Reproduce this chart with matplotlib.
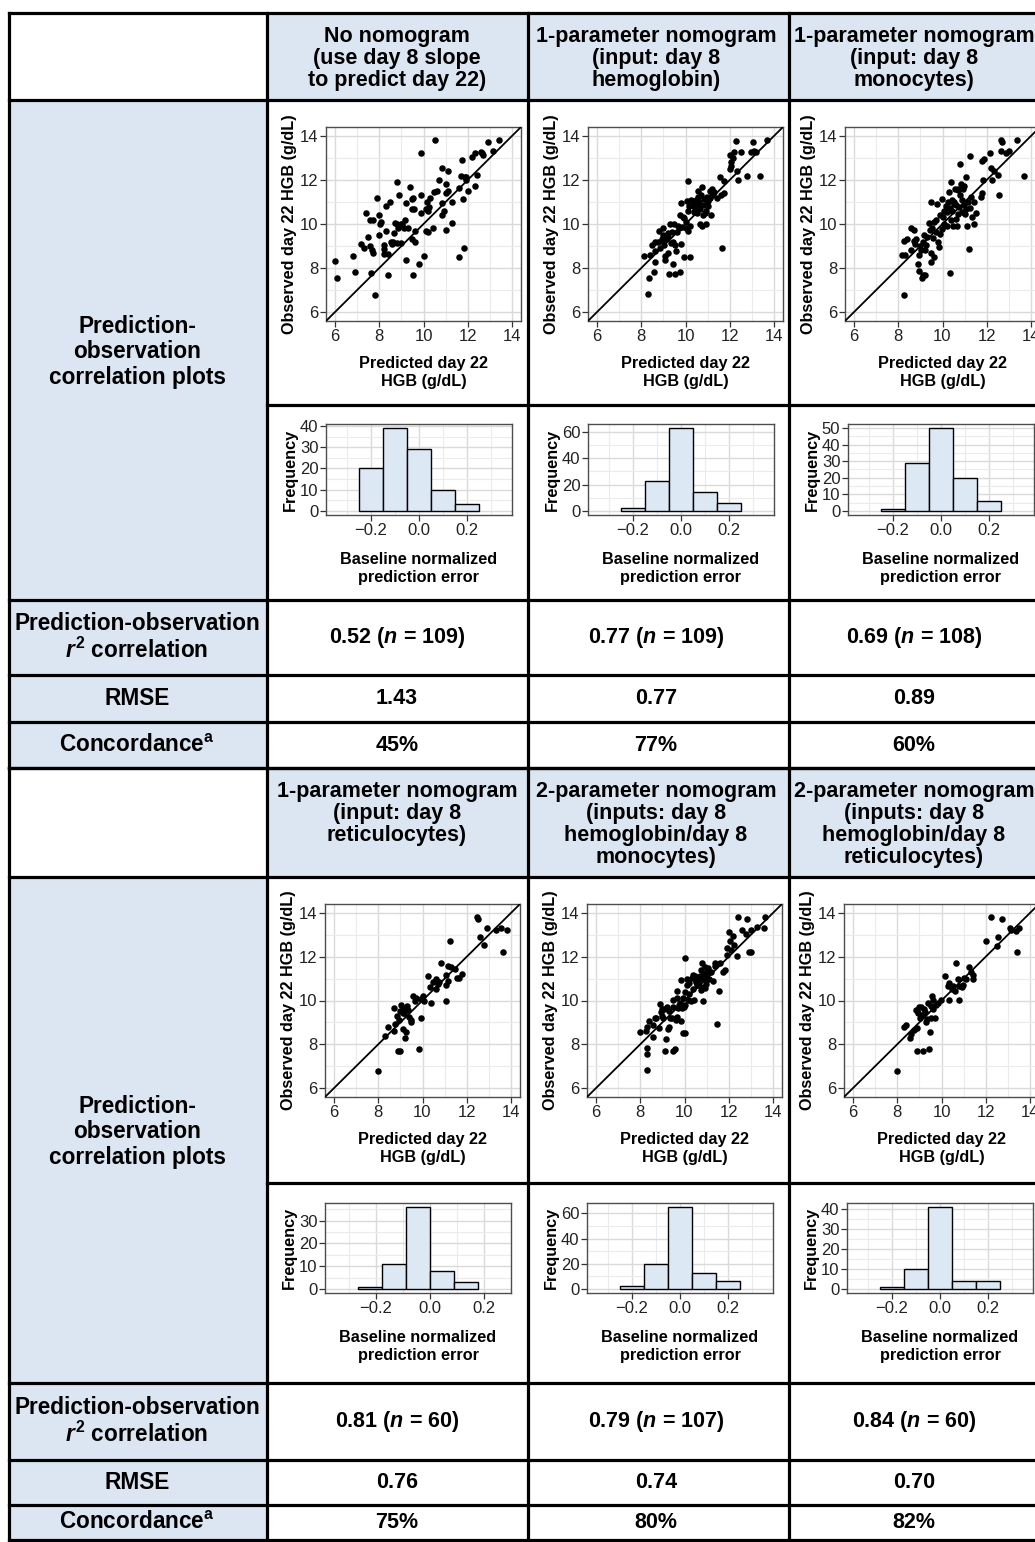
import matplotlib
matplotlib.use('Agg')
import matplotlib.pyplot as plt
import numpy as np
from matplotlib.patches import Rectangle
from matplotlib.lines import Line2D
from matplotlib.ticker import MultipleLocator, FixedLocator

plt.rcParams['font.family'] = ['Liberation Sans', 'DejaVu Sans']
plt.rcParams['font.weight'] = 'bold'
plt.rcParams['mathtext.fontset'] = 'custom'
plt.rcParams['mathtext.rm'] = 'Liberation Sans:bold'
plt.rcParams['mathtext.it'] = 'Liberation Sans:italic:bold'
plt.rcParams['mathtext.bf'] = 'Liberation Sans:bold'

# ---------------- data ----------------
col_headers_1 = ["No nomogram\n(use day 8 slope\nto predict day 22)",
                 "1-parameter nomogram\n(input: day 8\nhemoglobin)",
                 "1-parameter nomogram\n(input: day 8\nmonocytes)"]
col_headers_2 = ["1-parameter nomogram\n(input: day 8\nreticulocytes)",
                 "2-parameter nomogram\n(inputs: day 8\nhemoglobin/day 8\nmonocytes)",
                 "2-parameter nomogram\n(inputs: day 8\nhemoglobin/day 8\nreticulocytes)"]
row_labels = ["Prediction-\nobservation\ncorrelation plots",
              "Prediction-observation\n$r^2$ correlation",
              "RMSE",
              "Concordance$^{\\rm a}$"]
r2_values_1 = ["0.52 ($n$ = 109)", "0.77 ($n$ = 109)", "0.69 ($n$ = 108)"]
rmse_values_1 = ["1.43", "0.77", "0.89"]
conc_values_1 = ["45%", "77%", "60%"]
r2_values_2 = ["0.81 ($n$ = 60)", "0.79 ($n$ = 107)", "0.84 ($n$ = 60)"]
rmse_values_2 = ["0.76", "0.74", "0.70"]
conc_values_2 = ["75%", "80%", "82%"]

hgb_ticks = [6, 8, 10, 12, 14]
err_ticks = [-0.2, 0.0, 0.2]

slope_pred = [6.0, 6.1, 6.81, 6.9, 7.19, 7.3, 7.4, 7.5, 7.6, 7.7, 7.6, 7.69, 7.73, 7.63, 7.8, 7.9, 8.0, 8.03,
              8.1, 8.0, 8.2, 8.2, 8.2, 8.4, 8.3, 8.5, 8.3, 8.42, 8.55, 8.63, 8.7, 8.8, 8.9, 8.79, 8.87, 8.68,
              8.79, 8.98, 8.97, 9.12, 9.18, 9.2, 9.19, 9.3, 9.4, 9.46, 9.54, 9.48, 9.57, 9.51, 9.6, 9.5, 9.6,
              9.8, 9.9, 9.9, 9.9, 10.0, 10.11, 10.22, 10.16, 10.26, 10.13, 10.22, 10.3, 10.41, 10.52, 10.49,
              10.62, 10.7, 10.82, 10.82, 10.82, 10.91, 11.0, 11.0, 11.1, 11.12, 11.0, 11.3, 11.3, 11.62, 11.62,
              11.74, 11.71, 11.8, 11.81, 11.87, 11.92, 12.0, 12.2, 12.31, 12.31, 12.41, 12.6, 12.63, 12.7,
              12.91, 13.12, 13.42, 11.92, 8.95, 9.05, 10.18, 8.6]
slope_obs = [8.31, 7.55, 8.56, 7.84, 9.08, 8.9, 10.5, 9.4, 10.2, 10.2, 9.0, 8.8, 8.7, 7.8, 6.8, 11.2, 10.4, 10.0,
             10.08, 9.5, 9.05, 8.85, 8.65, 8.65, 10.8, 11.0, 9.7, 7.7, 9.2, 9.17, 10.03, 11.9, 11.32, 9.98,
             9.83, 9.59, 9.14, 9.16, 10.0, 9.83, 10.2, 10.94, 8.37, 9.83, 11.7, 11.12, 11.2, 10.7, 10.7, 7.67,
             9.7, 9.3, 9.2, 8.2, 13.2, 11.32, 10.5, 8.53, 10.66, 10.6, 10.99, 10.76, 9.68, 9.63, 11.2, 9.81,
             13.8, 11.44, 11.5, 12.0, 12.52, 10.94, 10.42, 10.6, 11.82, 11.4, 12.42, 11.5, 9.75, 11.02, 10.04,
             11.62, 8.5, 12.9, 12.18, 11.14, 8.91, 12.13, 12.0, 11.5, 13.02, 13.2, 11.71, 12.22, 13.28, 13.2,
             13.13, 13.7, 13.32, 13.8, 12.15, 9.9, 10.0, 10.7, 9.1]

hgb_pred = [8.11, 8.32, 8.36, 8.41, 8.56, 8.48, 8.62, 8.64, 8.74, 8.8, 8.86, 8.92, 8.98, 9.0, 9.04, 9.07, 9.09,
            9.12, 9.19, 9.22, 9.24, 9.31, 9.34, 9.37, 9.42, 9.43, 9.46, 9.52, 9.54, 9.57, 9.61, 9.69, 9.73,
            9.75, 9.78, 9.8, 9.86, 9.92, 9.95, 10.0, 10.04, 10.05, 10.13, 10.13, 10.16, 10.22, 10.22, 10.25,
            10.32, 10.4, 10.43, 10.46, 10.5, 10.55, 10.58, 10.61, 10.64, 10.67, 10.7, 10.73, 10.76, 10.79,
            10.82, 10.85, 10.91, 10.94, 10.97, 11.03, 11.09, 11.12, 11.15, 11.18, 11.24, 11.3, 11.56, 11.6,
            11.66, 11.75, 11.75, 11.99, 12.02, 12.07, 12.13, 12.17, 12.28, 12.31, 12.39, 12.51, 12.78, 12.96,
            13.05, 13.11, 13.17, 13.38, 13.68, 12.05, 8.62, 10.1, 9.9, 10.9, 11.4, 9.2, 10.35, 8.95, 11.0,
            10.6, 9.65, 11.2, 10.45]
hgb_obs = [8.56, 6.82, 7.54, 8.59, 7.84, 9.05, 8.29, 8.77, 9.2, 9.69, 8.9, 9.23, 9.8, 9.5, 9.05, 8.56, 8.37,
           9.32, 9.57, 8.67, 7.71, 9.98, 9.12, 9.62, 9.17, 8.18, 10.0, 7.72, 9.05, 8.77, 9.65, 9.8, 10.4,
           7.81, 9.1, 10.95, 9.87, 10.28, 8.52, 10.1, 9.83, 11.03, 11.93, 9.68, 10.8, 8.52, 9.9, 11.1, 10.82,
           10.55, 10.77, 11.1, 10.52, 11.22, 11.48, 11.0, 10.0, 10.7, 11.33, 11.67, 9.92, 10.4, 11.12, 10.88,
           9.98, 10.58, 11.24, 11.03, 11.51, 11.18, 10.4, 11.6, 11.37, 11.45, 12.12, 11.33, 8.92, 11.42,
           11.93, 13.13, 12.5, 12.83, 12.98, 13.25, 13.77, 12.42, 12.0, 13.25, 12.2, 13.25, 13.7, 13.32,
           13.28, 12.17, 13.79, 12.65, 9.17, 10.6, 10.3, 10.5, 11.2, 9.4, 10.9, 9.3, 10.8, 10.9, 9.9, 11.3,
           10.6]

mono_pred = [8.25, 8.15, 8.25, 8.39, 8.33, 8.6, 8.58, 8.7, 8.7, 8.78, 8.9, 8.96, 8.93, 9.05, 9.08, 9.14, 9.23,
             9.11, 9.17, 9.2, 9.26, 9.38, 9.46, 9.43, 9.46, 9.5, 9.53, 9.56, 9.63, 9.69, 9.72, 9.76, 9.79, 9.84,
             9.87, 9.96, 9.99, 10.05, 10.09, 10.14, 10.2, 10.21, 10.26, 10.29, 10.32, 10.34, 10.37, 10.38,
             10.41, 10.44, 10.47, 10.52, 10.55, 10.59, 10.62, 10.65, 10.68, 10.71, 10.74, 10.77, 10.82, 10.86,
             10.9, 10.92, 10.97, 10.98, 11.02, 11.08, 11.11, 11.14, 11.2, 11.23, 11.24, 11.29, 11.35, 11.42,
             11.5, 11.73, 11.8, 11.8, 11.88, 11.83, 12.13, 12.19, 12.25, 12.34, 12.52, 12.55, 12.62, 12.65,
             12.68, 12.86, 12.98, 13.37, 13.67, 9.0, 9.3, 9.9, 10.5, 10.8, 11.05, 9.6, 10.15, 8.8, 10.0,
             10.7, 11.4]
mono_obs = [6.8, 8.61, 9.23, 9.3, 8.61, 8.8, 9.81, 9.71, 9.21, 9.1, 8.2, 7.86, 8.61, 8.8, 7.55, 7.67, 7.7,
            9.18, 9.48, 8.8, 9.06, 10.05, 10.99, 9.71, 8.7, 8.28, 9.81, 9.36, 8.5, 10.2, 9.63, 10.91, 9.18,
            8.95, 9.56, 11.14, 9.78, 10.61, 10.0, 10.57, 10.54, 9.93, 11.02, 11.44, 10.72, 7.8, 11.92, 10.16,
            11.11, 10.61, 9.93, 11.02, 11.59, 10.84, 10.23, 9.93, 11.52, 10.46, 10.76, 12.72, 11.82, 10.54,
            11.11, 11.59, 10.84, 11.74, 10.46, 12.12, 9.9, 11.02, 8.88, 13.1, 10.72, 11.21, 10.31, 10.0,
            10.51, 11.21, 11.41, 12.87, 12.95, 12.01, 13.22, 12.52, 12.01, 12.42, 12.22, 11.32, 13.32, 13.82,
            13.73, 13.22, 13.32, 13.82, 12.19, 9.0, 9.4, 10.4, 10.9, 11.3, 10.7, 10.1, 10.8, 9.3, 10.3,
            11.6, 11.0]

retic_pred = [7.97, 8.3, 8.44, 8.71, 8.74, 8.71, 8.83, 8.9, 8.98, 8.95, 8.98, 9.05, 9.1, 9.13, 9.16, 9.19,
              9.25, 9.31, 9.35, 9.4, 9.46, 9.5, 9.55, 9.65, 9.85, 9.91, 9.95, 10.0, 10.06, 10.23, 10.36, 10.4,
              10.59, 10.63, 10.71, 10.75, 10.84, 11.05, 11.05, 11.08, 11.16, 11.17, 11.23, 11.28, 11.46,
              11.56, 11.65, 11.77, 12.48, 12.51, 12.59, 12.77, 12.92, 13.31, 13.56, 13.64, 13.82, 10.48,
              9.1, 9.7]
retic_obs = [6.8, 8.38, 8.8, 9.66, 8.91, 8.61, 9.3, 7.7, 7.7, 9.11, 9.51, 9.78, 8.7, 9.6, 9.41, 8.31, 8.55,
             9.75, 9.56, 9.26, 9.03, 9.11, 10.2, 10.0, 7.8, 9.21, 10.05, 10.2, 10.0, 11.11, 10.61, 9.9, 10.96,
             10.51, 10.76, 10.84, 11.71, 11.14, 10.72, 10.0, 10.91, 11.56, 12.7, 11.52, 11.44, 11.02, 11.02,
             11.21, 13.82, 13.7, 12.9, 12.52, 13.32, 13.22, 13.32, 12.19, 13.22, 10.84, 9.45, 10.1]

hgbmono_pred = [7.99, 8.32, 8.32, 8.32, 8.26, 8.32, 8.41, 8.56, 8.59, 8.67, 8.86, 8.89, 8.92, 8.97, 9.01, 9.07,
                9.13, 9.16, 9.19, 9.24, 9.31, 9.34, 9.42, 9.46, 9.49, 9.57, 9.61, 9.64, 9.67, 9.7, 9.77, 9.83,
                9.86, 9.89, 9.92, 9.98, 10.01, 10.02, 10.04, 10.1, 10.13, 10.17, 10.22, 10.28, 10.32, 10.37,
                10.4, 10.44, 10.47, 10.52, 10.55, 10.61, 10.67, 10.73, 10.76, 10.79, 10.82, 10.85, 10.88,
                10.91, 10.94, 10.97, 11.0, 11.03, 11.08, 11.15, 11.3, 11.36, 11.39, 11.45, 11.57, 11.75,
                11.83, 11.9, 11.93, 11.99, 12.05, 12.2, 12.23, 12.39, 12.42, 12.58, 12.78, 12.84, 12.93,
                13.02, 13.0, 13.29, 13.59, 13.62, 9.64, 9.3, 10.6, 10.9, 9.8, 10.2, 11.1, 8.7, 9.5, 10.5,
                11.6, 10.0, 9.95, 10.7, 11.2, 12.1, 9.0]
hgbmono_obs = [8.56, 6.81, 7.56, 7.83, 8.62, 8.81, 9.07, 8.89, 8.32, 9.22, 8.74, 9.82, 9.46, 9.31, 9.22, 9.61,
               7.71, 8.26, 9.71, 8.71, 8.81, 9.22, 9.19, 7.71, 10.02, 7.8, 9.11, 10.42, 10.12, 9.64, 9.79,
               9.07, 10.92, 9.64, 8.51, 9.71, 8.51, 11.92, 9.79, 10.69, 10.96, 10.02, 10.81, 9.97, 11.02,
               10.54, 11.14, 10.02, 11.11, 10.84, 10.69, 10.96, 10.72, 11.41, 10.47, 11.71, 9.97, 10.96,
               11.22, 10.57, 11.52, 10.77, 11.29, 11.02, 11.47, 11.29, 10.87, 11.71, 11.56, 8.92, 10.42,
               11.32, 11.41, 12.08, 12.38, 13.13, 12.72, 12.95, 12.53, 12.02, 13.82, 13.22, 13.02, 13.73,
               12.23, 12.2, 13.22, 13.34, 13.32, 13.82, 9.26, 9.5, 10.8, 10.6, 9.9, 10.3, 11.0, 9.2, 9.7,
               10.9, 11.7, 10.4, 10.1, 11.1, 11.3, 12.3, 9.6]

hgbretic_pred = [8.0, 8.33, 8.42, 8.57, 8.61, 8.76, 8.88, 8.83, 8.88, 8.94, 8.98, 9.03, 9.09, 9.12, 9.18, 9.24,
                 9.3, 9.36, 9.45, 9.48, 9.51, 9.54, 9.58, 9.6, 9.63, 9.69, 9.73, 9.84, 9.96, 10.16, 10.32,
                 10.35, 10.49, 10.53, 10.59, 10.64, 10.74, 10.77, 10.8, 10.92, 11.01, 11.09, 11.24, 11.32,
                 11.41, 11.44, 11.99, 12.22, 12.52, 12.55, 12.72, 13.09, 13.15, 13.36, 13.39, 13.51, 10.29,
                 9.2, 10.95, 9.4]
hgbretic_obs = [6.8, 8.8, 8.88, 8.31, 8.46, 8.65, 7.7, 9.56, 8.73, 9.41, 9.71, 9.21, 9.71, 9.33, 7.7, 9.48,
                9.03, 9.15, 7.8, 8.55, 9.75, 9.18, 10.2, 9.63, 10.01, 9.21, 9.81, 9.9, 10.01, 11.11, 10.01,
                10.81, 10.54, 10.66, 10.42, 11.71, 10.96, 10.01, 10.66, 10.61, 11.02, 10.96, 11.52, 11.32,
                10.96, 11.14, 12.7, 13.82, 12.5, 12.9, 13.73, 13.32, 13.22, 13.17, 12.19, 13.32, 10.64,
                9.6, 10.7, 9.9]

# histogram bin edges and counts
edges_std = [-0.25, -0.15, -0.05, 0.05, 0.15, 0.25]
edges_retic = [-0.266, -0.177, -0.089, 0.0, 0.089, 0.177]
hist_slope = [20, 39, 29, 10, 3]
hist_hgb = [2, 23, 63, 14, 6]
hist_mono = [1, 29, 50, 20, 6]
hist_retic = [1, 11, 36, 8, 3]
hist_hgbmono = [2, 20, 65, 13, 6]
hist_hgbretic = [1, 10, 41, 4, 4]

# ---------------- layout (pixels) ----------------
W, H = 1035, 1542
fig = plt.figure(figsize=(W / 100, H / 100), dpi=100)

BLUE = '#dce6f2'
HBLUE = '#dde8f5'
col_x = [9, 267, 528, 789, 1045]
col_c = [137, 397, 656, 914]
rows1 = [13, 100, 405, 600, 675, 722, 768]
rows2 = [768, 877, 1183, 1383, 1460, 1505, 1540]

HEAD_FS = 15.5
LAB_FS = 16.3
VAL_FS = 15.5
AX_FS = 11.7
TICK_FS = 12


def fx(x):
    return x / W


def fy(y):
    return 1 - y / H


def rect(x0, y0, x1, y1, color):
    fig.patches.append(Rectangle((fx(x0), fy(y1)), fx(x1) - fx(x0), fy(y0) - fy(y1),
                                 transform=fig.transFigure, facecolor=color, edgecolor='none', zorder=0))


def hline(y, x0, x1):
    fig.lines.append(Line2D([fx(x0), fx(x1)], [fy(y), fy(y)], transform=fig.transFigure,
                            color='black', lw=2.3, zorder=5, solid_capstyle='projecting'))


def vline(x, y0, y1):
    fig.lines.append(Line2D([fx(x), fx(x)], [fy(y0), fy(y1)], transform=fig.transFigure,
                            color='black', lw=2.3, zorder=5, solid_capstyle='projecting'))


def add_ax(x0, y0, x1, y1):
    return fig.add_axes([fx(x0), fy(y1), fx(x1) - fx(x0), fy(y0) - fy(y1)])


def style_axes(ax):
    ax.set_axisbelow(True)
    for s in ax.spines.values():
        s.set_color('#4d4d4d')
        s.set_linewidth(1.0)
    ax.tick_params(which='major', length=4, width=0.9, color='#333333', labelcolor='#222222',
                   labelsize=TICK_FS, pad=1.5)
    ax.tick_params(which='minor', length=0)
    ax.grid(which='major', color='#dadada', lw=1.0)
    ax.grid(which='minor', color='#ebebeb', lw=0.8)
    for lab in ax.get_xticklabels() + ax.get_yticklabels():
        lab.set_fontweight('normal')


def scatter_panel(box, px, py):
    ax = add_ax(*box)
    ax.scatter(px, py, s=22, color='black', linewidths=0, zorder=3)
    ax.axline((hgb_ticks[0], hgb_ticks[0]), slope=1, color='black', lw=1.3, zorder=4)
    ax.set_xlim(5.6, 14.4)
    ax.set_ylim(5.6, 14.4)
    ax.xaxis.set_major_locator(FixedLocator(hgb_ticks))
    ax.yaxis.set_major_locator(FixedLocator(hgb_ticks))
    ax.xaxis.set_minor_locator(MultipleLocator(1))
    ax.yaxis.set_minor_locator(MultipleLocator(1))
    style_axes(ax)
    ax.set_xlabel("Predicted day 22\nHGB (g/dL)", fontsize=AX_FS, fontweight='bold', labelpad=9,
                  linespacing=1.2)
    ax.set_ylabel("Observed day 22 HGB (g/dL)", fontsize=AX_FS, fontweight='bold', labelpad=2)
    return ax


def hist_panel(box, edges, counts, ystep, xlim):
    ax = add_ax(*box)
    e = np.array(edges)
    c = np.array(counts)
    ax.bar(e[:-1], c, width=np.diff(e), align='edge', color=HBLUE, edgecolor='black', lw=1.0, zorder=3)
    ax.set_xlim(*xlim)
    ax.set_ylim(-0.05 * c.max(), 1.05 * c.max())
    ax.xaxis.set_major_locator(FixedLocator(err_ticks))
    ax.xaxis.set_minor_locator(MultipleLocator(0.1))
    ax.yaxis.set_major_locator(MultipleLocator(ystep))
    ax.yaxis.set_minor_locator(MultipleLocator(ystep / 2))
    ax.set_xticklabels(['\u22120.2', '0.0', '0.2'])
    style_axes(ax)
    ax.set_xlabel("Baseline normalized\nprediction error", fontsize=AX_FS, fontweight='bold', labelpad=10,
                  linespacing=1.25)
    ax.set_ylabel("Frequency", fontsize=AX_FS, fontweight='bold', labelpad=1)
    return ax


def block(rows, headers, r2v, rmsev, concv, scat, hists, plot_boxes):
    # backgrounds
    for c in range(1, 4):
        rect(col_x[c], rows[0], col_x[c + 1], rows[1], BLUE)
    rect(col_x[0], rows[1], col_x[1], rows[6], BLUE)
    # lines
    for i, y in enumerate(rows):
        if i == 2:
            hline(y, col_x[1], col_x[4])
        else:
            hline(y, col_x[0], col_x[4])
    for x in col_x[:4]:
        vline(x, rows[0], rows[6])
    # header text (top aligned)
    for c in range(3):
        fig.text(fx(col_c[c + 1]), fy(rows[0] + 13), headers[c], ha='center', va='top',
                 fontsize=HEAD_FS, fontweight='bold', linespacing=1.06)
    # row labels
    fig.text(fx(col_c[0]), fy((rows[1] + rows[3]) / 2 + 2), row_labels[0], ha='center', va='center',
             fontsize=LAB_FS, fontweight='bold', linespacing=1.12)
    fig.text(fx(col_c[0]), fy((rows[3] + rows[4]) / 2), row_labels[1], ha='center', va='center',
             fontsize=LAB_FS, fontweight='bold', linespacing=1.1)
    fig.text(fx(col_c[0]), fy((rows[4] + rows[5]) / 2), row_labels[2], ha='center', va='center',
             fontsize=LAB_FS, fontweight='bold')
    fig.text(fx(col_c[0]), fy((rows[5] + rows[6]) / 2), row_labels[3], ha='center', va='center',
             fontsize=LAB_FS, fontweight='bold')
    for c in range(3):
        fig.text(fx(col_c[c + 1]), fy((rows[3] + rows[4]) / 2), r2v[c], ha='center', va='center',
                 fontsize=VAL_FS, fontweight='bold')
        fig.text(fx(col_c[c + 1]), fy((rows[4] + rows[5]) / 2), rmsev[c], ha='center', va='center',
                 fontsize=VAL_FS, fontweight='bold')
        fig.text(fx(col_c[c + 1]), fy((rows[5] + rows[6]) / 2), concv[c], ha='center', va='center',
                 fontsize=VAL_FS, fontweight='bold')
    sb, hb = plot_boxes
    for c in range(3):
        scatter_panel(sb[c], scat[c][0], scat[c][1])
        hist_panel(hb[c], hists[c][0], hists[c][1], hists[c][2], hists[c][3])


sc_left = [326, 588, 845]
hi_left = [326, 588, 848]
box1_s = [(l, 127, l + 195, 321) for l in sc_left]
box1_h = [(l, 424, l + 186, 515) for l in hi_left]
box2_s = [(l - 1, 904, l + 194, 1097) for l in sc_left]
box2_h = [(l - 1, 1203, l + 185, 1293) for l in hi_left]

block(rows1, col_headers_1, r2_values_1, rmse_values_1, conc_values_1,
      [(slope_pred, slope_obs), (hgb_pred, hgb_obs), (mono_pred, mono_obs)],
      [(edges_std, hist_slope, 10, (-0.385, 0.385)),
       (edges_std, hist_hgb, 20, (-0.385, 0.385)),
       (edges_std, hist_mono, 10, (-0.385, 0.385))],
      (box1_s, box1_h))
block(rows2, col_headers_2, r2_values_2, rmse_values_2, conc_values_2,
      [(retic_pred, retic_obs), (hgbmono_pred, hgbmono_obs), (hgbretic_pred, hgbretic_obs)],
      [(edges_retic, hist_retic, 10, (-0.387, 0.298)),
       (edges_std, hist_hgbmono, 20, (-0.385, 0.385)),
       (edges_std, hist_hgbretic, 10, (-0.385, 0.385))],
      (box2_s, box2_h))

fig.savefig('out.png', dpi=100, facecolor='white')
